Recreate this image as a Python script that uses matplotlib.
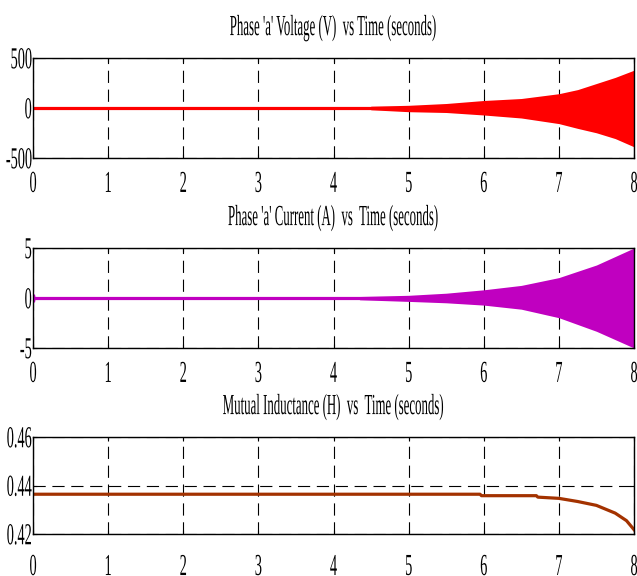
import numpy as np
import matplotlib
matplotlib.use('Agg')
import matplotlib.pyplot as plt
from matplotlib.patheffects import AbstractPathEffect
from matplotlib.transforms import Affine2D

plt.rcParams['font.family'] = ['Liberation Serif', 'DejaVu Serif']
plt.rcParams['axes.unicode_minus'] = False

# Phase 'a' voltage envelope (V)
volt_t = [0.0, 4.45, 4.5, 5.0, 5.5, 6.0, 6.5, 7.0, 7.25, 7.5, 7.75, 8.0]
volt_hi = [0, 0, 18, 27, 45, 75, 95, 143, 184, 245, 306, 378]
volt_lo = [0, 0, -18, -37, -45, -70, -100, -156, -204, -248, -306, -388]

# Phase 'a' current envelope (A)
cur_t = [0.0, 0.02, 0.03, 4.3, 4.35, 5.0, 5.5, 6.0, 6.5, 7.0, 7.5, 8.0]
cur_hi = [0.4, 0.4, 0, 0, 0.15, 0.27, 0.48, 0.82, 1.26, 2.04, 3.3, 5.0]
cur_lo = [-0.4, -0.4, 0, 0, -0.18, -0.34, -0.48, -0.71, -1.12, -1.97, -3.33, -5.0]

# Mutual inductance (H)
ind_t = [0.0, 5.95, 5.97, 6.7, 6.72, 7.0, 7.25, 7.5, 7.75, 7.9, 8.0]
ind_l = [0.4364, 0.4364, 0.4358, 0.4358, 0.4352, 0.4347, 0.4334, 0.4318, 0.4286, 0.4255, 0.4218]

titles = ["Phase 'a' Voltage (V)  vs Time (seconds)",
          "Phase 'a' Current (A)  vs  Time (seconds)",
          "Mutual Inductance (H)  vs  Time (seconds)"]
x_ticks = [0, 1, 2, 3, 4, 5, 6, 7, 8]
volt_ticks = [-500, 0, 500]
cur_ticks = [-5, 0, 5]
ind_ticks = [0.42, 0.44, 0.46]
ind_labels = ['0.42', '0.44', '0.46']


class Stretch(AbstractPathEffect):
    """Make the text taller, giving the condensed look of the original font."""
    def __init__(self, sy=2.1, centre=True):
        super().__init__()
        self.sy = sy
        self.centre = centre

    def draw_path(self, renderer, gc, tpath, affine, rgbFace=None):
        if len(tpath.vertices):
            y0 = 0.0
            if self.centre:
                ext = tpath.get_extents()
                y0 = ext.y0 + 0.5 * ext.height
            st = Affine2D().translate(0, -y0).scale(1, self.sy).translate(0, y0)
            affine = st + affine
        renderer.draw_path(gc, tpath, affine, rgbFace)


fig = plt.figure(figsize=(6.37, 5.76), dpi=100)
left, width = 33 / 637, 601 / 637
ax1 = fig.add_axes([left, 1 - 158 / 576, width, 100 / 576])
ax2 = fig.add_axes([left, 1 - 348 / 576, width, 100 / 576])
ax3 = fig.add_axes([left, 1 - 534 / 576, width, 97 / 576])

# voltage
ax1.fill_between(volt_t, volt_lo, volt_hi, color='#ff0000', lw=0)
ax1.plot([volt_t[0], volt_t[-1]], [0, 0], color='#ff0000', lw=2.3)
ax1.set_ylim(-500, 500)
ax1.set_yticks(volt_ticks)

# current
ax2.fill_between(cur_t, cur_lo, cur_hi, color='#c000c0', lw=0)
ax2.plot([cur_t[0], cur_t[-1]], [0, 0], color='#c000c0', lw=2.3)
ax2.set_ylim(-5, 5)
ax2.set_yticks(cur_ticks)

# inductance
ax3.plot(ind_t, ind_l, color='#a33200', lw=2.3)
ax3.set_ylim(0.42, 0.46)
ax3.set_yticks(ind_ticks)
ax3.set_yticklabels(ind_labels)

for ax, title, xpad in zip([ax1, ax2, ax3], titles, [13.4, 13.4, 18.5]):
    ax.set_xlim(0, 8)
    ax.set_xticks(x_ticks)
    ax.set_axisbelow(True)
    ax.grid(True, color='black', linestyle=(0, (11, 6)), lw=0.8)
    for s in ax.spines.values():
        s.set_linewidth(1.0)
        s.set_color('black')
        s.set_zorder(3)
    ax.tick_params(direction='in', length=3, width=0.8, top=True, right=True,
                   labelsize=10.3)
    ax.tick_params(axis='x', pad=xpad)
    ax.tick_params(axis='y', pad=1)
    ax.set_title(title, fontsize=9.25, pad=16.5,
                 path_effects=[Stretch(2.27, centre=False)])

fig.canvas.draw()
for ax in [ax1, ax2, ax3]:
    for lab in ax.get_xticklabels() + ax.get_yticklabels():
        lab.set_path_effects([Stretch(2.13)])

fig.savefig('out.png', dpi=100)
